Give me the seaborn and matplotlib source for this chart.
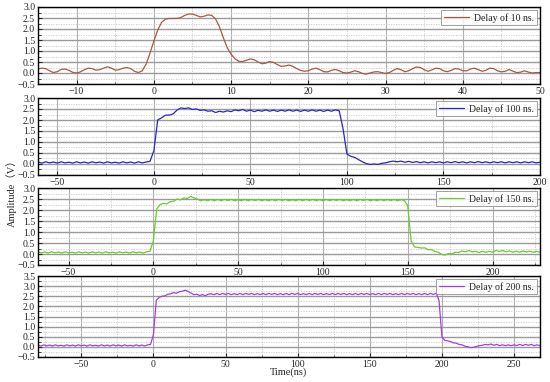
import numpy as np
import pandas as pd
import matplotlib
matplotlib.use("Agg")
import matplotlib.pyplot as plt
from matplotlib.ticker import MultipleLocator, FuncFormatter
import seaborn as sns

# ---------------- data ----------------
# sampling: start time and step (ns) for each trace
start_10, step_10 = -15.0, 0.5
amp_10 = [0.18, 0.22, 0.20, 0.10, 0.02, 0.06, 0.16, 0.18, 0.12, 0.03,
          0.00, 0.05, 0.15, 0.22, 0.20, 0.13, 0.15, 0.22, 0.28, 0.22,
          0.13, 0.15, 0.22, 0.25, 0.20, 0.08, 0.02, 0.10, 0.40, 0.90,
          1.45, 1.95, 2.30, 2.45, 2.48, 2.48, 2.48, 2.52, 2.62, 2.68,
          2.68, 2.62, 2.55, 2.58, 2.64, 2.62, 2.45, 2.10, 1.60, 1.15,
          0.85, 0.65, 0.53, 0.52, 0.58, 0.64, 0.60, 0.50, 0.42, 0.45,
          0.52, 0.48, 0.38, 0.30, 0.32, 0.36, 0.30, 0.20, 0.12, 0.08,
          0.10, 0.18, 0.22, 0.15, 0.06, 0.05, 0.12, 0.16, 0.10, 0.02,
          0.00, 0.04, 0.10, 0.06, -0.02, -0.05, 0.00, 0.05, 0.06, 0.02,
          -0.02, 0.02, 0.12, 0.20, 0.15, 0.06, 0.10, 0.20, 0.27, 0.25,
          0.15, 0.08, 0.14, 0.22, 0.20, 0.10, 0.06, 0.12, 0.20, 0.18,
          0.10, 0.10, 0.18, 0.22, 0.15, 0.08, 0.12, 0.22, 0.20, 0.10,
          0.05, 0.08, 0.16, 0.08, 0.02, 0.04, 0.10, 0.04, 0.00, 0.02, 0.02]

start_100, step_100 = -60.0, 2.0
amp_100 = [0.09, 0.04, 0.10, 0.05, 0.09, 0.04, 0.10, 0.05, 0.08, 0.04,
           0.10, 0.05, 0.09, 0.04, 0.10, 0.05, 0.09, 0.04, 0.10, 0.05,
           0.08, 0.04, 0.10, 0.05, 0.09, 0.04, 0.10, 0.05, 0.09, 0.12,
           0.60, 2.00, 2.10, 2.22, 2.22, 2.28, 2.45, 2.55, 2.52, 2.55,
           2.48, 2.50, 2.44, 2.46, 2.40, 2.42, 2.34, 2.40, 2.36, 2.42,
           2.38, 2.46, 2.42, 2.48, 2.40, 2.45, 2.38, 2.44, 2.40, 2.46,
           2.40, 2.45, 2.39, 2.45, 2.40, 2.46, 2.40, 2.45, 2.39, 2.45,
           2.40, 2.46, 2.40, 2.45, 2.39, 2.45, 2.40, 2.46, 2.42, 1.60,
           0.45, 0.35, 0.30, 0.20, 0.10, 0.02, -0.02, 0.00, -0.02, 0.03,
           0.05, 0.10, 0.13, 0.10, 0.13, 0.08, 0.12, 0.07, 0.11, 0.06,
           0.10, 0.05, 0.10, 0.06, 0.10, 0.05, 0.10, 0.06, 0.11, 0.06,
           0.10, 0.05, 0.10, 0.06, 0.11, 0.06, 0.10, 0.05, 0.10, 0.06,
           0.10, 0.05, 0.10, 0.06, 0.10, 0.05, 0.10, 0.06, 0.10, 0.05, 0.08]

start_150, step_150 = -68.0, 2.0
amp_150 = [0.10, 0.05, 0.09, 0.04, 0.10, 0.05, 0.09, 0.04, 0.10, 0.05,
           0.08, 0.04, 0.10, 0.05, 0.09, 0.04, 0.10, 0.05, 0.09, 0.04,
           0.10, 0.05, 0.08, 0.04, 0.10, 0.05, 0.09, 0.04, 0.10, 0.05,
           0.09, 0.04, 0.10, 0.12,
           0.60, 2.05, 2.25, 2.30, 2.28, 2.38, 2.40, 2.50, 2.46, 2.55,
           2.52, 2.62, 2.55, 2.50, 2.42, 2.47, 2.42, 2.48, 2.42, 2.48,
           2.42, 2.48, 2.43, 2.48, 2.42, 2.47, 2.42, 2.48, 2.42, 2.48,
           2.43, 2.48, 2.42, 2.47, 2.42, 2.48, 2.42, 2.48, 2.43, 2.48,
           2.42, 2.47, 2.42, 2.48, 2.42, 2.48, 2.43, 2.48, 2.42, 2.47,
           2.42, 2.48, 2.42, 2.48, 2.43, 2.48, 2.42, 2.47, 2.42, 2.48,
           2.42, 2.48, 2.43, 2.48, 2.42, 2.47, 2.42, 2.48, 2.42, 2.48,
           2.43, 2.48, 2.42, 2.47, 2.43, 2.20,
           0.60, 0.32, 0.30, 0.27, 0.28, 0.20, 0.20, 0.12, 0.08, -0.02,
           -0.05, 0.02, 0.00, 0.08, 0.07, 0.14, 0.10, 0.16, 0.10, 0.12,
           0.07, 0.12, 0.08, 0.12, 0.08, 0.16, 0.12, 0.16, 0.10, 0.14,
           0.08, 0.13, 0.08, 0.14, 0.09, 0.13, 0.08, 0.12, 0.08, 0.10]

start_200, step_200 = -80.0, 2.0
amp_200 = [0.09, 0.04, 0.10, 0.05, 0.09, 0.04, 0.10, 0.05, 0.08, 0.04,
           0.10, 0.05, 0.09, 0.04, 0.10, 0.05, 0.09, 0.04, 0.10, 0.05,
           0.08, 0.04, 0.10, 0.05, 0.09, 0.04, 0.10, 0.05, 0.09, 0.04,
           0.10, 0.05, 0.08, 0.04, 0.10, 0.05, 0.09, 0.04, 0.10, 0.12,
           0.60, 2.30, 2.45, 2.50, 2.52, 2.60, 2.62, 2.68, 2.65, 2.72,
           2.75, 2.80, 2.74, 2.66, 2.58, 2.60, 2.54, 2.58, 2.53, 2.60,
           2.62, 2.58, 2.64, 2.58, 2.64, 2.59, 2.64, 2.58, 2.63, 2.58,
           2.64, 2.58, 2.64, 2.59, 2.64, 2.58, 2.63, 2.58, 2.64, 2.58,
           2.64, 2.59, 2.64, 2.58, 2.63, 2.58, 2.64, 2.58, 2.64, 2.59,
           2.64, 2.58, 2.63, 2.58, 2.64, 2.58, 2.64, 2.59, 2.64, 2.58,
           2.63, 2.58, 2.64, 2.58, 2.64, 2.59, 2.64, 2.58, 2.63, 2.58,
           2.64, 2.58, 2.64, 2.59, 2.64, 2.58, 2.63, 2.58, 2.64, 2.58,
           2.64, 2.59, 2.64, 2.58, 2.63, 2.58, 2.64, 2.58, 2.64, 2.59,
           2.64, 2.58, 2.63, 2.58, 2.64, 2.58, 2.64, 2.59, 2.64, 2.30,
           0.50, 0.32, 0.30, 0.26, 0.20, 0.18, 0.12, 0.10, 0.03, 0.00,
           -0.04, -0.02, 0.02, 0.06, 0.08, 0.12, 0.10, 0.14, 0.08, 0.12,
           0.06, 0.10, 0.06, 0.10, 0.06, 0.10, 0.07, 0.12, 0.07, 0.12,
           0.08, 0.12, 0.06, 0.10, 0.06]

labels = ["Delay of 10 ns.", "Delay of 100 ns.", "Delay of 150 ns.", "Delay of 200 ns."]
colors = ["#A65A45", "#2B24C8", "#6CCB2A", "#A040E6"]
xlims = [(-15, 50), (-60, 200), (-68, 228), (-80, 268)]
ylims = [(-0.5, 3.0), (-0.5, 3.0), (-0.5, 3.0), (-0.5, 3.5)]
xmajor = [10, 50, 50, 50]

traces = [(start_10, step_10, amp_10), (start_100, step_100, amp_100),
          (start_150, step_150, amp_150), (start_200, step_200, amp_200)]

# ---------------- figure ----------------
sns.set_theme(style="ticks")
plt.rcParams["font.family"] = ["Liberation Serif", "Noto Sans CJK SC", "DejaVu Sans"]

fig = plt.figure(figsize=(5.5, 3.82), dpi=100)
L, W = 38 / 550, 502 / 550
boxes = [(7, 84), (98, 175), (188, 265), (276, 357)]

minus = lambda s: s.replace("-", "\u2212")

for i, ((s, st, vals), (top, bot)) in enumerate(zip(traces, boxes)):
    ax = fig.add_axes([L, 1 - bot / 382, W, (bot - top) / 382])
    t = s + st * np.arange(len(vals))
    df = pd.DataFrame({"t": t, "amp": vals})
    sns.lineplot(data=df, x="t", y="amp", ax=ax, color=colors[i], lw=0.9,
                 label=labels[i])
    ax.set_xlim(*xlims[i])
    ax.set_ylim(*ylims[i])
    ax.xaxis.set_major_locator(MultipleLocator(xmajor[i]))
    ax.xaxis.set_minor_locator(MultipleLocator(xmajor[i] / 2))
    ax.yaxis.set_major_locator(MultipleLocator(0.5))
    ax.yaxis.set_minor_locator(MultipleLocator(0.25))
    ax.grid(which="major", axis="y", color="#9a9a9a", lw=1.0, ls="-")
    ax.grid(which="major", axis="x", color="#b0b0b0", lw=0.8, ls="-")
    ax.grid(which="minor", color="#c8c8c8", lw=0.6, ls=(0, (1.5, 1.5)))
    ax.set_axisbelow(True)
    ax.tick_params(which="both", direction="in", labelsize=7, pad=2,
                   top=False, right=False)
    ax.tick_params(which="major", length=3, width=0.8)
    ax.tick_params(which="minor", length=1.8, width=0.6)
    ax.xaxis.set_major_formatter(FuncFormatter(lambda v, p: minus(f"{int(round(v))}")))
    ax.yaxis.set_major_formatter(FuncFormatter(lambda v, p: minus(f"{v:.1f}")))
    for sp in ax.spines.values():
        sp.set_linewidth(1.0)
        sp.set_color("black")
    ax.set_xlabel("")
    ax.set_ylabel("")
    leg = ax.legend(loc="upper right", fontsize=7, frameon=True, fancybox=False,
                    handlelength=2.6, borderpad=0.3, handletextpad=0.5,
                    borderaxespad=0.3)
    leg.get_frame().set_edgecolor("#888888")
    leg.get_frame().set_linewidth(0.7)

fig.text(0.02, 0.5, "Amplitude（V）", rotation=90, ha="center", va="center",
         fontsize=7.5)
fig.text(0.525, 0.026, "Time(ns)", ha="center", va="center", fontsize=7.5)

fig.savefig("out.png", dpi=100)
